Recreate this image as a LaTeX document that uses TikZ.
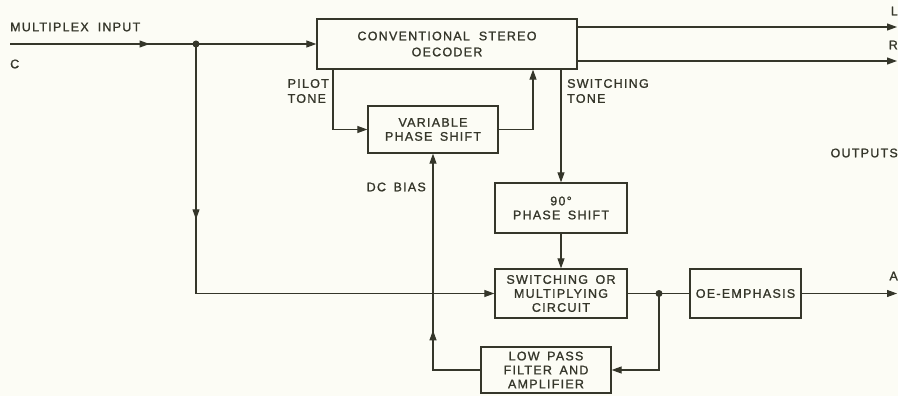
\documentclass[tikz,border=0pt]{standalone}
\usepackage{fontspec}
\setmainfont{Liberation Sans}[LetterSpace=10,FakeBold=1.2,WordSpace=1.6]
\usetikzlibrary{arrows.meta,decorations.markings}
\definecolor{ink}{HTML}{35362A}
\definecolor{paper}{HTML}{FCFCF5}
\newcommand{\wsp}{\hspace{9pt}}
\tikzset{
  blk/.style={draw=ink,line width=1.3pt,align=center,inner sep=1pt,font=\fontsize{12.5}{14}\selectfont},
  lbl/.style={text=ink,align=left,inner sep=0pt,font=\fontsize{12.5}{15}\selectfont},
  wire/.style={draw=ink,line width=1.1pt,-{Triangle[length=10pt,width=7pt]}},
  line/.style={draw=ink,line width=1.1pt},
  midarr/.style={postaction={decorate},decoration={markings,
    mark=at position #1 with {\arrow[ink]{Triangle[length=10pt,width=7pt]}}}}
}
\begin{document}
\begin{tikzpicture}[x=1pt,y=1pt,text=ink]
\fill[paper] (0,0) rectangle (898,-396);
\useasboundingbox (0,0) rectangle (898,-396);
\node[blk,minimum width=260,minimum height=50,font=\fontsize{12.5}{16}\selectfont] (dec) at (447,-44) {CONVENTIONAL\wsp STEREO\\OECODER};
\node[blk,minimum width=130,minimum height=47] (vps) at (433,-129.5) {VARIABLE\\PHASE SHIFT};
\node[blk,minimum width=132,minimum height=50] (ps90) at (561,-208) {90°\\PHASE SHIFT};
\node[blk,minimum width=132,minimum height=49] (sw) at (561,-293.5) {SWITCHING OR\\MULTIPLYING\\CIRCUIT};
\node[blk,minimum width=111,minimum height=49] (deemph) at (745.5,-293.5) {OE-EMPHASIS};
\node[blk,minimum width=130,minimum height=46] (lp) at (546,-370) {LOW PASS\\FILTER AND\\AMPLIFIER};
\fill[ink] (196,-44) circle (3.5) coordinate (j1);
\fill[ink] (659,-293.5) circle (3.5) coordinate (j2);
\coordinate (cin) at (10,-44);
\coordinate (lout) at (897,-27);
\coordinate (rout) at (897,-61);
\coordinate (aout) at (897,-293.5);
% input and decoder
\draw[line,midarr=0.75] (cin) -- (j1);
\draw[wire] (j1) -- (dec.west);
\draw[wire] (dec.east |- lout) -- (lout);
\draw[wire] (dec.east |- rout) -- (rout);
\draw[wire] ([xshift=-114]dec.south) |- (vps.west);
\draw[wire] (vps.east) -| ([xshift=86]dec.south);
\draw[wire] (ps90.north |- dec.south) -- (ps90.north);
\draw[wire] (ps90) -- (sw);
% branch to the multiplier
\draw[wire,midarr=0.32] (j1) |- (sw.west);
\draw[wire,midarr=0.33] (lp.west) -| (vps.south);
\draw[line] (sw.east) -- (j2) -- (deemph.west);
\draw[wire] (deemph.east) -- (aout);
\draw[wire] (j2) |- (lp.east);
% labels
\node[lbl,anchor=west] (tin) at (10,-27) {MULTIPLEX\wsp INPUT};
\node[lbl,anchor=west] (tc) at (10,-64) {C};
\node[lbl,anchor=east] (tl) at (898,-11) {L};
\node[lbl,anchor=east] (tr) at (898,-45) {R};
\node[lbl,anchor=east,align=left] (tpilot) at (329,-91) {PILOT\\TONE};
\node[lbl,anchor=west] (tswt) at (567,-91) {SWITCHING\\TONE};
\node[lbl,anchor=east] (tdc) at (426,-187) {DC BIAS};
\node[lbl,anchor=east] (tout) at (898,-153) {OUTPUTS};
\node[lbl,anchor=east] (ta) at (898,-276) {A};
\end{tikzpicture}
\end{document}
